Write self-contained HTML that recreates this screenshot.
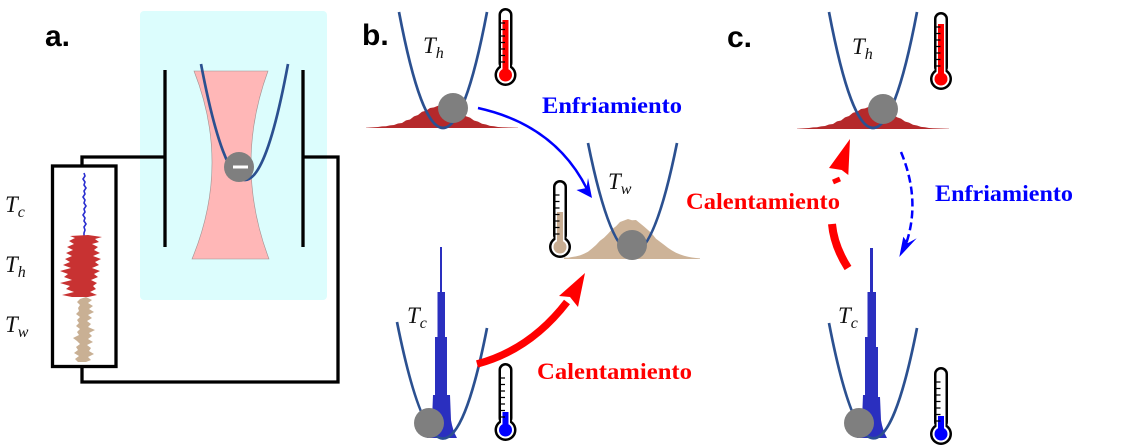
<!DOCTYPE html>
<html><head><meta charset="utf-8"><style>
html,body{margin:0;padding:0;background:#fff;}
svg{display:block;}
</style></head><body>
<svg width="1140" height="447" viewBox="0 0 1140 447" xmlns="http://www.w3.org/2000/svg">
<rect width="1140" height="447" fill="#fff"/>

<!-- ===== Panel a ===== -->
<text x="45" y="46" font-family="Liberation Sans, sans-serif" font-weight="bold" font-size="30">a.</text>
<rect x="140" y="11" width="187" height="289" rx="4" fill="#dcfdfd"/>
<!-- plates -->
<line x1="165" y1="70" x2="165" y2="247" stroke="#000" stroke-width="3.3"/>
<line x1="303" y1="70" x2="303" y2="247" stroke="#000" stroke-width="3.3"/>
<!-- wires -->
<path d="M165,157 L82,157 L82,166" fill="none" stroke="#000" stroke-width="3.3"/>
<path d="M303,157 L338,157 L338,382 L82,382 L82,367" fill="none" stroke="#000" stroke-width="3.3"/>
<rect x="52.5" y="166" width="63.5" height="200.5" fill="#fff" stroke="#000" stroke-width="3.3"/>
<!-- beam -->
<path d="M194,71 L268,71 Q233.5,165 269,259 L192,259 Q231,165 194,71 Z" fill="#ffb7b7" stroke="#a09090" stroke-width="0.6"/>
<!-- parabola -->
<path d="M201,64 Q223,180 245,180 Q266.5,180 288,64" fill="none" stroke="#2b5090" stroke-width="2.7"/>
<circle cx="239" cy="167" r="15" fill="#7f7f7f"/>
<rect x="233" y="165.5" width="15" height="3" fill="#fff"/>
<!-- trace -->
<polyline points="84,173 85,176 83,179 85,182 84,185 86,188 84,191 85,194 83,197 85,200 84,203 86,206 84,209 85,212 83,215 85,218 84,221 86,224 84,227 85,230 84,233 84,236" fill="none" stroke="#2a2fd0" stroke-width="1.6"/>
<polygon points="88,235 102,237 95,239 99,242 92,244 98,247 94,250 100,253 93,256 101,259 95,262 99,265 92,268 100,271 94,274 98,277 91,280 97,283 93,286 96,289 90,292 97,295 88,297 72,297 62,295 74,292 66,289 70,286 60,283 72,280 64,277 68,274 60,271 71,268 63,265 70,262 65,259 72,256 66,253 73,250 67,247 74,244 69,241 75,238 70,236" fill="#c83232"/>
<polygon points="86,297 92,300 88,303 93,306 89,309 94,312 88,315 92,318 87,321 91,324 88,327 95,330 89,333 92,336 88,339 93,342 87,345 91,348 89,351 94,354 88,357 91,360 86,362 78,362 75,359 79,356 74,353 78,350 76,347 80,344 77,341 73,338 79,335 77,332 80,329 76,326 79,323 77,320 80,317 76,314 79,311 78,308 80,305 77,302 80,299" fill="#c9b094"/>
<g font-family="Liberation Serif, serif" font-style="italic" font-size="23" fill="#111">
<text x="5" y="212">T<tspan font-size="16" dy="5">c</tspan></text>
<text x="5" y="272">T<tspan font-size="16" dy="5">h</tspan></text>
<text x="5" y="332">T<tspan font-size="16" dy="5">w</tspan></text>
</g>

<!-- ===== Panel b ===== -->
<text x="362" y="45" font-family="Liberation Sans, sans-serif" font-weight="bold" font-size="30">b.</text>

<!-- red histogram (b) -->
<g id="redhist">
<polygon fill="#b5292b" points="366,128 366,127.7 370,127.5 374,127.2 378,127 382,126.4 386,126.2 390,125.4 394,125 398,123.5 402,123 406,120.4 410,119.5 414,116.4 418,115 422,111.8 426,110.8 430,108 434,107.4 438,105.7 442,106.4 446,106.1 450,108.2 454,108.9 458,111.8 462,113.1 466,116.2 470,117.6 474,120.5 478,121.6 482,123.7 486,124.5 490,125.9 494,126.3 498,127 502,127.2 506,127.4 510,127.5 514,127.6 518,127.8 518,128"/>
</g>
<path d="M399,12 Q443,244 487,12" fill="none" stroke="#2b5090" stroke-width="2.7"/>
<circle cx="453" cy="108" r="15" fill="#7f7f7f"/>
<text x="423" y="53" font-family="Liberation Serif, serif" font-style="italic" font-size="23" fill="#111">T<tspan font-size="16" dy="5">h</tspan></text>

<!-- tan histogram -->
<polygon fill="#cdb398" points="564,259 564,257.5 568,257.8 572,257 576,256.4 580,255.4 584,253.8 588,251.8 592,248.5 596,245 600,240.8 604,237.7 608,233.8 612,229.2 616,226.3 620,222 624,220.5 628,219 632,220.2 636,220 640,223.3 644,226.5 648,230 652,233.8 656,238.7 660,241.8 664,244.8 668,247.9 672,250.5 676,252.7 680,254.4 684,255.8 688,256.8 692,257.5 696,258 700,258.4 700,259"/>
<path d="M588,143 Q632.5,363 677,143" fill="none" stroke="#2b5090" stroke-width="2.7"/>
<circle cx="632" cy="245" r="15" fill="#7f7f7f"/>
<text x="608" y="189" font-family="Liberation Serif, serif" font-style="italic" font-size="23" fill="#111">T<tspan font-size="16" dy="5">w</tspan></text>

<!-- blue histogram (b) -->
<polygon fill="#2a2fbf" points="427,438 430,432 431,425 432,420 433,395 435,395 435,337 437.5,337 437.5,292 440,292 440,247 442,247 442,292 445,292 445,337 447,337 447,395 450,395 451,420 452,425 454,432 457,438"/>
<path d="M397,322 Q443,552 487,328" fill="none" stroke="#2b5090" stroke-width="2.7"/>
<circle cx="429" cy="423" r="15" fill="#7f7f7f"/>
<text x="407" y="323" font-family="Liberation Serif, serif" font-style="italic" font-size="23" fill="#111">T<tspan font-size="16" dy="5">c</tspan></text>

<!-- arrows b -->
<path d="M478,108 Q555,125 587,189" fill="none" stroke="#0000ff" stroke-width="2.5"/>
<polygon points="592,198 576.5,190 586.5,188 588,178" fill="#0000ff"/>
<path d="M477,364 Q530,350 567,302" fill="none" stroke="#ff0000" stroke-width="7.5"/>
<polygon points="585,273 559,296 570,297 578,307" fill="#ff0000"/>

<text x="542" y="113" font-family="Liberation Serif, serif" font-weight="bold" font-size="23" fill="#0000ff" textLength="140" lengthAdjust="spacingAndGlyphs">Enfriamiento</text>
<text x="537" y="379" font-family="Liberation Serif, serif" font-weight="bold" font-size="23" fill="#ff0000" textLength="155" lengthAdjust="spacingAndGlyphs">Calentamiento</text>

<!-- thermometers -->
<g transform="translate(505.5,8)">
<rect x="-7" y="0" width="14" height="62" rx="7" fill="#000"/><circle cy="67" r="11" fill="#000"/>
<rect x="-4.5" y="2.5" width="9" height="62" rx="4.5" fill="#fff"/><circle cy="67" r="8.5" fill="#fff"/>
<rect x="-3" y="12" width="6" height="55" fill="#ff0000"/><circle cy="67" r="6.5" fill="#ff0000"/>
<path d="M-4.5,15h4M-4.5,21.5h4M-4.5,28h4M-4.5,34.5h4M-4.5,41h4M-4.5,47.5h4M-4.5,54h4" stroke="#000" stroke-width="1.2"/>
</g>
<g transform="translate(560,180)">
<rect x="-7" y="0" width="14" height="62" rx="7" fill="#000"/><circle cy="67" r="11" fill="#000"/>
<rect x="-4.5" y="2.5" width="9" height="62" rx="4.5" fill="#fff"/><circle cy="67" r="8.5" fill="#fff"/>
<rect x="-3" y="32" width="6" height="35" fill="#c8ad92"/><circle cy="67" r="6.5" fill="#c8ad92"/>
<path d="M-4.5,15h4M-4.5,21.5h4M-4.5,28h4M-4.5,34.5h4M-4.5,41h4M-4.5,47.5h4M-4.5,54h4" stroke="#000" stroke-width="1.2"/>
</g>
<g transform="translate(505.5,363)">
<rect x="-7" y="0" width="14" height="62" rx="7" fill="#000"/><circle cy="67" r="11" fill="#000"/>
<rect x="-4.5" y="2.5" width="9" height="62" rx="4.5" fill="#fff"/><circle cy="67" r="8.5" fill="#fff"/>
<rect x="-3" y="49" width="6" height="18" fill="#0000ff"/><circle cy="67" r="6.5" fill="#0000ff"/>
<path d="M-4.5,15h4M-4.5,21.5h4M-4.5,28h4M-4.5,34.5h4M-4.5,41h4M-4.5,47.5h4M-4.5,54h4" stroke="#000" stroke-width="1.2"/>
</g>

<!-- ===== Panel c ===== -->
<text x="727" y="47" font-family="Liberation Sans, sans-serif" font-weight="bold" font-size="30">c.</text>

<g transform="translate(431,1)">
<polygon fill="#b5292b" points="366,128 366,127.7 370,127.5 374,127.2 378,127 382,126.4 386,126.2 390,125.4 394,125 398,123.5 402,123 406,120.4 410,119.5 414,116.4 418,115 422,111.8 426,110.8 430,108 434,107.4 438,105.7 442,106.4 446,106.1 450,108.2 454,108.9 458,111.8 462,113.1 466,116.2 470,117.6 474,120.5 478,121.6 482,123.7 486,124.5 490,125.9 494,126.3 498,127 502,127.2 506,127.4 510,127.5 514,127.6 518,127.8 518,128"/>
</g>
<path d="M829,12 Q873,244 917,12" fill="none" stroke="#2b5090" stroke-width="2.7"/>
<circle cx="883" cy="109" r="15" fill="#7f7f7f"/>
<text x="852" y="54" font-family="Liberation Serif, serif" font-style="italic" font-size="23" fill="#111">T<tspan font-size="16" dy="5">h</tspan></text>

<g transform="translate(430,0)">
<polygon fill="#2a2fbf" points="427,438 430,432 431,425 432,420 433,395 435,395 435,337 437.5,337 437.5,292 440,292 440,248 443,248 443,292 446,292 446,347 448,347 448,397 450,397 451,420 452,425 454,432 457,438"/>
</g>
<path d="M829,323 Q873,551 917,328" fill="none" stroke="#2b5090" stroke-width="2.7"/>
<circle cx="859" cy="423" r="15" fill="#7f7f7f"/>
<text x="838" y="323" font-family="Liberation Serif, serif" font-style="italic" font-size="23" fill="#111">T<tspan font-size="16" dy="5">c</tspan></text>

<!-- dashed arrows c -->
<path d="M848,268 Q834,246 832,224" fill="none" stroke="#ff0000" stroke-width="8"/>
<path d="M833,182 L840,179" fill="none" stroke="#ff0000" stroke-width="5"/>
<polygon points="850,139 829,168 841.7,170 848.3,175" fill="#ff0000"/>
<path d="M901,152 Q921,200 906,244" fill="none" stroke="#0000ff" stroke-width="2.5" stroke-dasharray="8,4"/>
<polygon points="899.3,257 903.3,236.7 908,243 916.7,238.3" fill="#0000ff"/>

<text x="686" y="209" font-family="Liberation Serif, serif" font-weight="bold" font-size="23" fill="#ff0000" textLength="154" lengthAdjust="spacingAndGlyphs">Calentamiento</text>
<text x="935" y="201" font-family="Liberation Serif, serif" font-weight="bold" font-size="23" fill="#0000ff" textLength="138" lengthAdjust="spacingAndGlyphs">Enfriamiento</text>

<g transform="translate(941,12)">
<rect x="-7" y="0" width="14" height="62" rx="7" fill="#000"/><circle cy="67" r="11" fill="#000"/>
<rect x="-4.5" y="2.5" width="9" height="62" rx="4.5" fill="#fff"/><circle cy="67" r="8.5" fill="#fff"/>
<rect x="-3" y="12" width="6" height="55" fill="#ff0000"/><circle cy="67" r="6.5" fill="#ff0000"/>
<path d="M-4.5,15h4M-4.5,21.5h4M-4.5,28h4M-4.5,34.5h4M-4.5,41h4M-4.5,47.5h4M-4.5,54h4" stroke="#000" stroke-width="1.2"/>
</g>
<g transform="translate(941,367)">
<rect x="-7" y="0" width="14" height="62" rx="7" fill="#000"/><circle cy="67" r="11" fill="#000"/>
<rect x="-4.5" y="2.5" width="9" height="62" rx="4.5" fill="#fff"/><circle cy="67" r="8.5" fill="#fff"/>
<rect x="-3" y="49" width="6" height="18" fill="#0000ff"/><circle cy="67" r="6.5" fill="#0000ff"/>
<path d="M-4.5,15h4M-4.5,21.5h4M-4.5,28h4M-4.5,34.5h4M-4.5,41h4M-4.5,47.5h4M-4.5,54h4" stroke="#000" stroke-width="1.2"/>
</g>
</svg>
</body></html>
